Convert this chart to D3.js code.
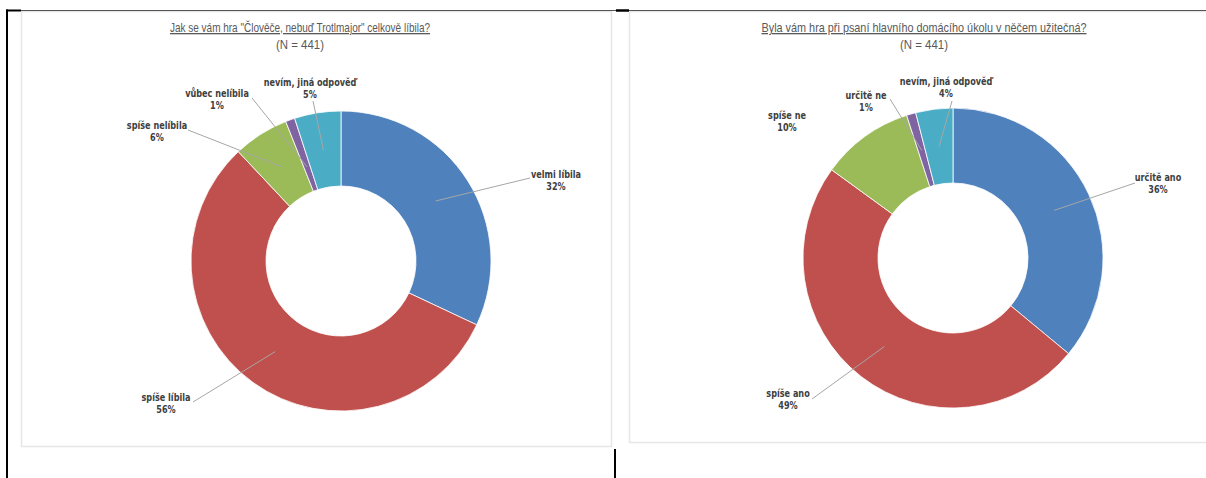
<!DOCTYPE html>
<html>
<head>
<meta charset="utf-8">
<script src="https://cdn.jsdelivr.net/npm/d3@7"></script>
<style>
  html, body { margin: 0; padding: 0; background: #fff; }
  svg { display: block; }
</style>
</head>
<body>
<svg id="chart" width="1206" height="478"></svg>
<script>
// ---- data ----
const titles = [
  "Jak se vám hra \"Člověče, nebuď Trotlmajor\" celkově líbila?",
  "Byla vám hra při psaní hlavního domácího úkolu v něčem užitečná?"
];
const subtitle = "(N = 441)";
const categories1 = ["velmi líbila", "spíše líbila", "spíše nelíbila", "vůbec nelíbila", "nevím, jiná odpověď"];
const values1 = [32, 56, 6, 1, 5];
const categories2 = ["určitě ano", "spíše ano", "spíše ne", "určitě ne", "nevím, jiná odpověď"];
const values2 = [36, 49, 10, 1, 4];
const colors = ["#4F81BD", "#C0504D", "#9BBB59", "#8064A2", "#4BACC6"];

// ---- layout (label placement relative to donut centre) ----
const layout1 = {
  cx: 341, cy: 261, titleX: 300, titleW: 260,
  labels: [
    { dx: 215, dy: -83, lx: 189, ly: -83, lr: 112 },
    { dx: -175, dy: 140, lx: -148, ly: 141, lr: 112 },
    { dx: -184, dy: -132, lx: -153, ly: -131, lr: 112 },
    { dx: -124, dy: -164, lx: -89, ly: -163, lr: 100 },
    { dx: -31, dy: -175, lx: -28, ly: -160, lr: 112 }
  ]
};
const layout2 = {
  cx: 953, cy: 258, titleX: 924, titleW: 325,
  labels: [
    { dx: 205, dy: -77, lx: 182, ly: -75, lr: 112 },
    { dx: -165, dy: 139, lx: -141, ly: 141, lr: 112 },
    { dx: -166, dy: -139, lx: null, ly: null, lr: 112 },
    { dx: -87, dy: -159, lx: -63, ly: -159, lr: 112 },
    { dx: -7, dy: -173, lx: -1, ly: -157, lr: 112 }
  ]
};

const svg = d3.select("#chart");

// frame / table lines
svg.append("rect").attr("x", 21.5).attr("y", 11.5).attr("width", 590).attr("height", 435)
  .attr("fill", "#fff").attr("stroke", "#e6e6e6").attr("stroke-width", 1.5);
svg.append("rect").attr("x", 629.5).attr("y", 11.5).attr("width", 590).attr("height", 431)
  .attr("fill", "#fff").attr("stroke", "#e6e6e6").attr("stroke-width", 1.5);
svg.append("line").attr("x1", 20).attr("x2", 1206).attr("y1", 10.5).attr("y2", 10.5)
  .attr("stroke", "#555").attr("stroke-width", 1);
svg.append("line").attr("x1", 6).attr("x2", 21).attr("y1", 10.5).attr("y2", 10.5)
  .attr("stroke", "#000").attr("stroke-width", 2);
svg.append("line").attr("x1", 616).attr("x2", 629).attr("y1", 10.5).attr("y2", 10.5)
  .attr("stroke", "#000").attr("stroke-width", 2.5);
svg.append("line").attr("x1", 7).attr("x2", 7).attr("y1", 9.5).attr("y2", 478)
  .attr("stroke", "#000").attr("stroke-width", 2);
svg.append("line").attr("x1", 615).attr("x2", 615).attr("y1", 449).attr("y2", 478)
  .attr("stroke", "#000").attr("stroke-width", 2);

const outerR = 150, innerR = 75;
const pie = d3.pie().sort(null).value(d => d.v);
const arc = d3.arc().innerRadius(innerR).outerRadius(outerR);
const titleFont = "'Liberation Sans', Arial, sans-serif";
const labelFont = "'DejaVu Sans Condensed', 'Liberation Sans', sans-serif";

function drawDonut(title, cats, vals, lay) {
  const g = svg.append("g");
  // titles
  g.append("text").attr("x", lay.titleX).attr("y", 32).attr("text-anchor", "middle")
    .attr("font-family", titleFont)
    .attr("font-size", 13).attr("fill", "#595959").attr("text-decoration", "underline")
    .attr("textLength", lay.titleW).attr("lengthAdjust", "spacingAndGlyphs")
    .text(title);
  g.append("text").attr("x", lay.titleX).attr("y", 49).attr("text-anchor", "middle")
    .attr("font-family", titleFont)
    .attr("font-size", 13).attr("fill", "#595959")
    .attr("textLength", 48).attr("lengthAdjust", "spacingAndGlyphs")
    .text(subtitle);

  const data = cats.map((c, i) => ({ c, v: vals[i], col: colors[i], lab: lay.labels[i] }));
  const arcs = pie(data);
  const pg = g.append("g").attr("transform", `translate(${lay.cx},${lay.cy})`);
  pg.selectAll("path").data(arcs).join("path")
    .attr("d", arc).attr("fill", d => d.data.col)
    .attr("stroke", "#fff").attr("stroke-width", 0.8);

  // leader lines
  arcs.forEach(a => {
    const L = a.data.lab;
    if (L.lx === null) return;
    const p = d3.arc().innerRadius(L.lr).outerRadius(L.lr).centroid(a);
    pg.append("line").attr("x1", p[0]).attr("y1", p[1]).attr("x2", L.lx).attr("y2", L.ly)
      .attr("stroke", "#a6a6a6").attr("stroke-width", 1);
  });

  // labels
  arcs.forEach(a => {
    const L = a.data.lab;
    const t = pg.append("text").attr("text-anchor", "middle")
      .attr("transform", `translate(${L.dx},${L.dy}) scale(0.86,1)`)
      .attr("font-family", labelFont)
      .attr("font-weight", "bold").attr("font-size", 10.5).attr("fill", "#404040");
    t.append("tspan").attr("x", 0).attr("y", 0).text(a.data.c);
    t.append("tspan").attr("x", 0).attr("y", 12.5).text(a.data.v + "%");
  });
}

drawDonut(titles[0], categories1, values1, layout1);
drawDonut(titles[1], categories2, values2, layout2);
</script>
</body>
</html>
